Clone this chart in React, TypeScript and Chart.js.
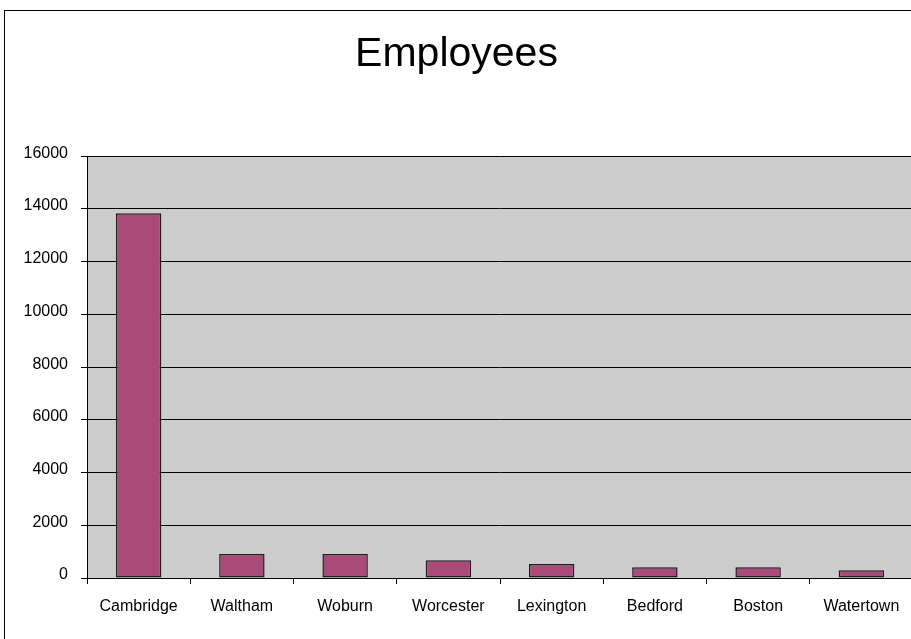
import React, { useEffect, useRef } from "react";
import { Chart, registerables } from "chart.js";

Chart.register(...registerables);

const categories = ["Cambridge", "Waltham", "Woburn", "Worcester", "Lexington", "Bedford", "Boston", "Watertown"];
const employees = [13840, 910, 910, 670, 530, 405, 405, 290];
const titleText = "Employees";
const yMin = 0;
const yMax = 16000;
const yStep = 2000;

const FONT = "'Liberation Sans', Arial, sans-serif";

const plotBg = {
  id: "plotBg",
  beforeDraw(chart: any) {
    const { ctx, chartArea } = chart;
    if (!chartArea) return;
    ctx.save();
    ctx.fillStyle = "#CCCCCC";
    ctx.fillRect(chartArea.left, chartArea.top, chartArea.right - chartArea.left, chartArea.bottom - chartArea.top);
    ctx.restore();
  },
};

export default function App() {
  const ref = useRef<HTMLCanvasElement | null>(null);
  useEffect(() => {
    if (!ref.current) return;
    const chart = new Chart(ref.current, {
      type: "bar",
      data: {
        labels: categories,
        datasets: [
          {
            label: titleText,
            data: employees,
            backgroundColor: "#AA4A78",
            borderColor: "#1e1e1e",
            borderWidth: 1.5,
            borderSkipped: false,
            categoryPercentage: 1,
            barPercentage: 0.44,
          },
        ],
      },
      plugins: [plotBg],
      options: {
        animation: false,
        responsive: false,
        maintainAspectRatio: false,
        devicePixelRatio: 1,
        layout: { padding: { top: 30, left: 0, right: 17, bottom: 10 } },
        plugins: {
          legend: { display: false },
          tooltip: { enabled: false },
          title: {
            display: true,
            text: titleText,
            color: "#000",
            font: { family: FONT, size: 41, weight: "normal", lineHeight: 1.2 },
            padding: { top: 0, bottom: 77 },
          },
        },
        scales: {
          x: {
            grid: {
              display: true,
              offset: true,
              drawOnChartArea: false,
              drawTicks: true,
              tickLength: 6,
              color: "#000",
            },
            border: { display: true, color: "#000", width: 1 },
            ticks: {
              color: "#000",
              font: { family: FONT, size: 16 },
              padding: 13,
              maxRotation: 0,
              autoSkip: false,
            },
            afterFit: (scale: any) => {
              scale.height = 62;
            },
          },
          y: {
            min: yMin,
            max: yMax,
            grid: {
              color: "#000",
              lineWidth: 1,
              tickLength: 6,
              drawTicks: true,
            },
            border: { display: true, color: "#000", width: 1 },
            ticks: {
              stepSize: yStep,
              color: "#000",
              font: { family: FONT, size: 16 },
              padding: 13,
              labelOffset: -3,
              callback: (v: any) => String(v),
            },
            afterFit: (scale: any) => {
              scale.width = 87;
            },
          },
        },
      },
    });
    return () => chart.destroy();
  }, []);

  return (
    <div style={{ position: "fixed", left: 0, top: 0, width: 911, height: 639, overflow: "hidden", background: "#fff" }}>
      <div
        style={{
          position: "absolute",
          left: 4,
          top: 10,
          width: 940,
          height: 660,
          border: "1px solid #000",
          boxSizing: "border-box",
        }}
      />
      <canvas ref={ref} width={930} height={650} style={{ position: "absolute", left: 0, top: 0, width: 930, height: 650 }} />
    </div>
  );
}
